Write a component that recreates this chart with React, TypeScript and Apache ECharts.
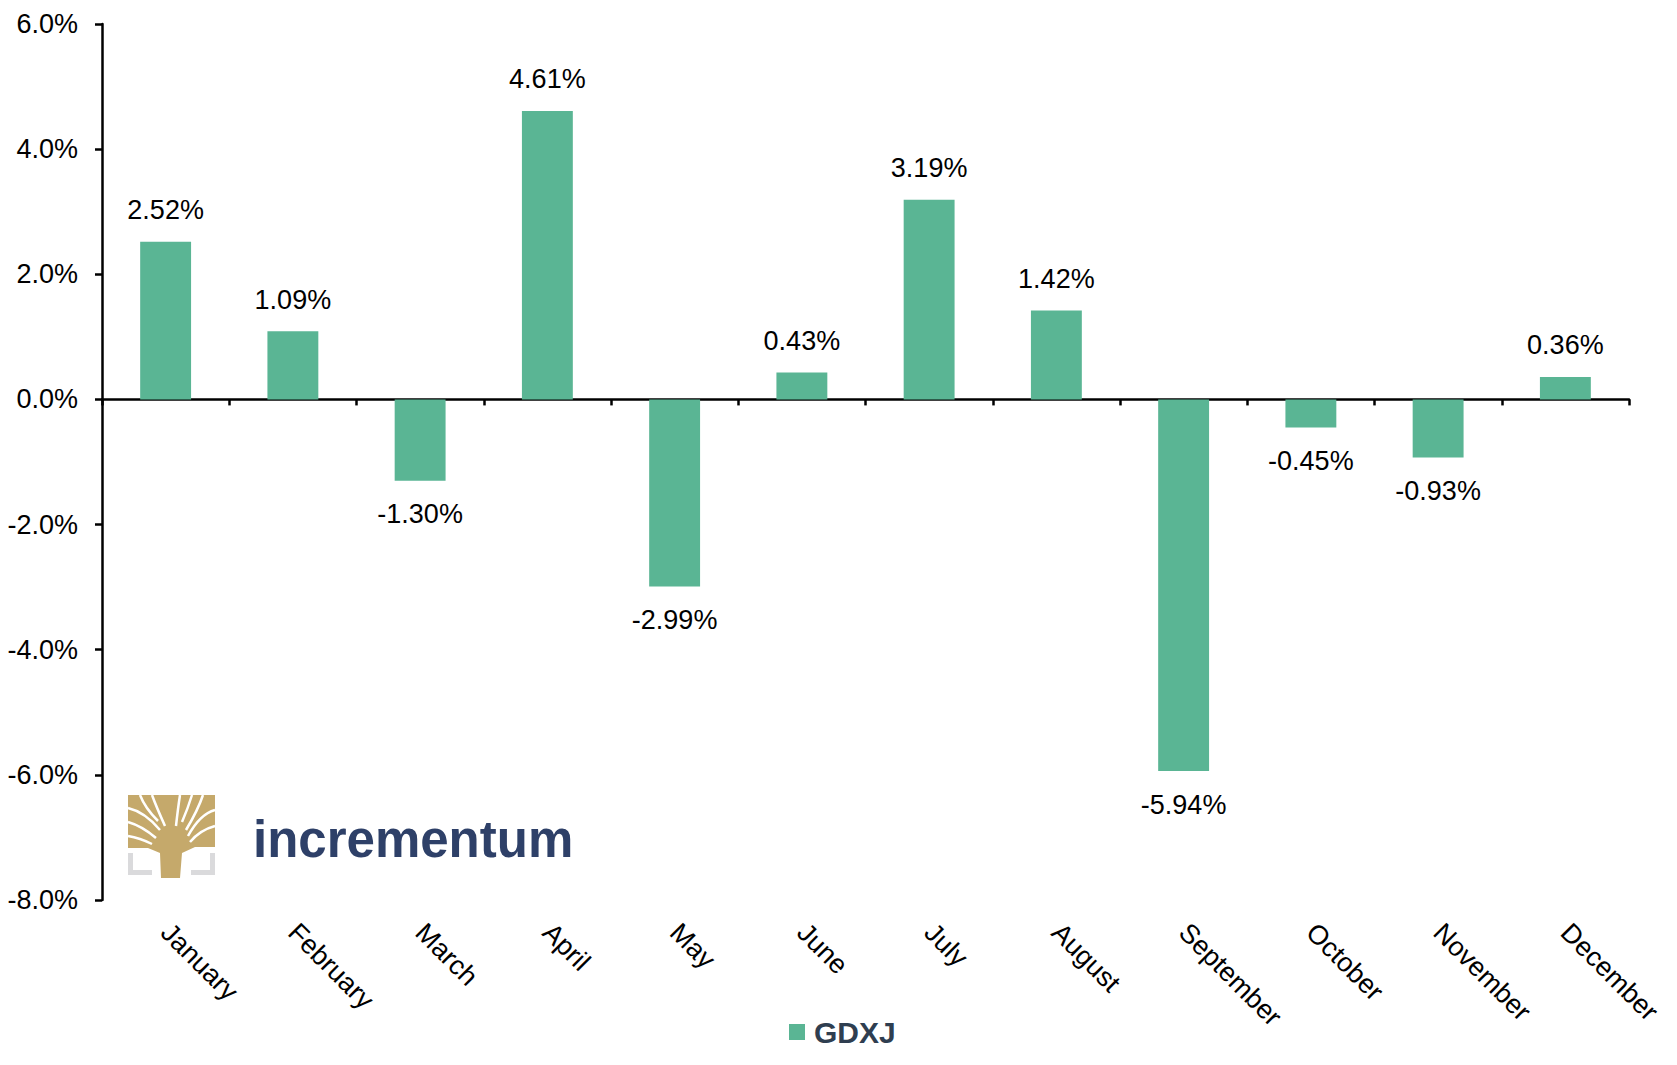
import React, { useEffect, useRef } from "react";
import * as echarts from "echarts";

const categories = [
  "January", "February", "March", "April", "May", "June",
  "July", "August", "September", "October", "November", "December",
];
const gdxjValues = [2.52, 1.09, -1.3, 4.61, -2.99, 0.43, 3.19, 1.42, -5.94, -0.45, -0.93, 0.36];
const seriesName = "GDXJ";
const yMin = -8;
const yMax = 6;
const yInterval = 2;

const FONT = "'Liberation Sans', Arial, sans-serif";
const GOLD = "#C5A96B";
const GRAY = "#DADADC";
const FS = 27;

function logoElements(): any[] {
  const whiteCurves = [
    [128, 808, 145, 812, 160, 830],
    [128, 822, 142, 826, 156, 838],
    [128, 836, 140, 838, 152, 844],
    [140, 795, 145, 808, 158, 821],
    [152, 795, 156, 806, 165, 826],
    [180, 795, 178, 808, 176, 826],
    [192, 795, 188, 808, 182, 822],
    [203, 795, 198, 810, 186, 830],
    [215, 810, 200, 814, 188, 836],
    [215, 826, 200, 830, 190, 842],
  ];
  const els: any[] = [
    { type: "rect", shape: { x: 128, y: 853, width: 5, height: 22 }, style: { fill: GRAY } },
    { type: "rect", shape: { x: 128, y: 870, width: 24, height: 5 }, style: { fill: GRAY } },
    { type: "rect", shape: { x: 210, y: 853, width: 5, height: 22 }, style: { fill: GRAY } },
    { type: "rect", shape: { x: 191, y: 870, width: 24, height: 5 }, style: { fill: GRAY } },
    {
      type: "polygon",
      shape: {
        points: [
          [128, 795], [215, 795], [215, 847], [195, 847], [182, 853], [180, 878],
          [161, 878], [160, 853], [148, 848], [128, 848],
        ],
      },
      style: { fill: GOLD },
    },
  ];
  whiteCurves.forEach((c) => {
    els.push({
      type: "bezierCurve",
      shape: { x1: c[0], y1: c[1], cpx1: c[2], cpy1: c[3], x2: c[4], y2: c[5] },
      style: { stroke: "#ffffff", lineWidth: 2.5, fill: null },
    });
  });
  els.push({
    type: "text",
    x: 253,
    y: 839,
    style: {
      text: "incrementum",
      font: `bold 51px ${FONT}`,
      fill: "#2E4068",
      verticalAlign: "middle",
      align: "left",
    },
  });
  return els;
}

export default function App() {
  const ref = useRef<HTMLDivElement>(null);
  useEffect(() => {
    if (!ref.current) return;
    const chart = echarts.init(ref.current, null, { renderer: "svg" });
    const data = gdxjValues.map((v) => ({
      value: v,
      label: v >= 0 ? { position: "top", distance: 18 } : { position: "bottom", distance: 20 },
    }));
    chart.setOption({
      animation: false,
      backgroundColor: "#ffffff",
      textStyle: { fontFamily: FONT },
      grid: { left: 102, right: 48, top: 24, bottom: 165, containLabel: false },
      legend: {
        show: true,
        data: [seriesName],
        left: 784,
        top: 1012,
        icon: "rect",
        itemWidth: 16,
        itemHeight: 16,
        textStyle: { fontFamily: FONT, fontSize: 30, fontWeight: "bold", color: "#2F3E50", padding: [0, 0, 0, 4] },
      },
      xAxis: [
        {
          type: "category",
          data: categories,
          position: "bottom",
          axisLine: { show: false, onZero: false },
          axisTick: { show: false },
          axisLabel: {
            rotate: -45,
            margin: 28,
            fontSize: FS,
            color: "#000000",
            fontFamily: FONT,
            interval: 0,
          },
        },
        {
          type: "category",
          data: categories,
          position: "bottom",
          axisLine: { show: true, onZero: true, lineStyle: { color: "#000000", width: 2.5 } },
          axisTick: { show: true, length: 6, lineStyle: { color: "#000000", width: 2.5 } },
          axisLabel: { show: false },
        },
      ],
      yAxis: {
        type: "value",
        min: yMin,
        max: yMax,
        interval: yInterval,
        axisLine: { show: true, lineStyle: { color: "#000000", width: 2.5 } },
        axisTick: { show: true, length: 7, lineStyle: { color: "#000000", width: 2.5 } },
        splitLine: { show: false },
        axisLabel: {
          margin: 24,
          fontSize: FS,
          color: "#000000",
          fontFamily: FONT,
          formatter: (v: number) => v.toFixed(1) + "%",
        },
      },
      series: [
        {
          name: seriesName,
          type: "bar",
          xAxisIndex: 0,
          data,
          barWidth: "40%",
          itemStyle: { color: "#5AB594" },
          label: {
            show: true,
            fontSize: FS,
            color: "#000000",
            fontFamily: FONT,
            formatter: (p: any) => p.value.toFixed(2) + "%",
          },
        },
      ],
      graphic: logoElements(),
    });
    return () => chart.dispose();
  }, []);
  return (
    <div
      ref={ref}
      style={{ position: "absolute", left: 0, top: 0, width: 1677, height: 1065 }}
    />
  );
}
